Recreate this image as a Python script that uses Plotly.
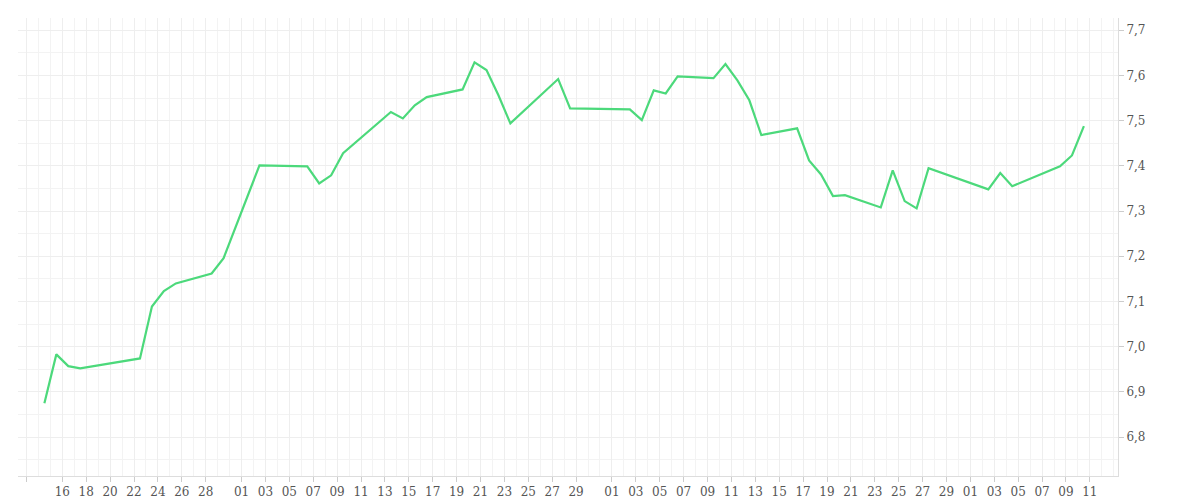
import plotly.graph_objects as go

# data (timestamps at midday)
dates = ["2023-04-14", "2023-04-15", "2023-04-16", "2023-04-17", "2023-04-22", "2023-04-23",
         "2023-04-24", "2023-04-25", "2023-04-28", "2023-04-29", "2023-05-02", "2023-05-06",
         "2023-05-07", "2023-05-08", "2023-05-09", "2023-05-13", "2023-05-14", "2023-05-15",
         "2023-05-16", "2023-05-19", "2023-05-20", "2023-05-21", "2023-05-22", "2023-05-23",
         "2023-05-27", "2023-05-28", "2023-06-02", "2023-06-03", "2023-06-04", "2023-06-05",
         "2023-06-06", "2023-06-09", "2023-06-10", "2023-06-11", "2023-06-12", "2023-06-13",
         "2023-06-16", "2023-06-17", "2023-06-18", "2023-06-19", "2023-06-20", "2023-06-23",
         "2023-06-24", "2023-06-25", "2023-06-26", "2023-06-27", "2023-07-02", "2023-07-03",
         "2023-07-04", "2023-07-08", "2023-07-09", "2023-07-10"]
values = [6.875, 6.983, 6.957, 6.952, 6.974, 7.089, 7.123, 7.140, 7.162, 7.196, 7.401, 7.399,
          7.361, 7.379, 7.428, 7.519, 7.505, 7.534, 7.552, 7.569, 7.629, 7.612, 7.556, 7.494,
          7.592, 7.527, 7.525, 7.501, 7.567, 7.560, 7.598, 7.594, 7.625, 7.589, 7.545, 7.468,
          7.483, 7.412, 7.381, 7.333, 7.335, 7.308, 7.390, 7.322, 7.306, 7.395, 7.348, 7.384,
          7.355, 7.399, 7.423, 7.488]

tick_dates = ["2023-04-13", "2023-04-16", "2023-04-18", "2023-04-20", "2023-04-22", "2023-04-24",
              "2023-04-26", "2023-04-28", "2023-05-01", "2023-05-03", "2023-05-05", "2023-05-07",
              "2023-05-09", "2023-05-11", "2023-05-13", "2023-05-15", "2023-05-17", "2023-05-19",
              "2023-05-21", "2023-05-23", "2023-05-25", "2023-05-27", "2023-05-29", "2023-06-01",
              "2023-06-03", "2023-06-05", "2023-06-07", "2023-06-09", "2023-06-11", "2023-06-13",
              "2023-06-15", "2023-06-17", "2023-06-19", "2023-06-21", "2023-06-23", "2023-06-25",
              "2023-06-27", "2023-06-29", "2023-07-01", "2023-07-03", "2023-07-05", "2023-07-07",
              "2023-07-09", "2023-07-11"]
tick_text = ["13Apr"] + [d[-2:] for d in tick_dates[1:]]

fig = go.Figure(go.Scatter(
    x=[d + " 12:00" for d in dates], y=values, mode="lines",
    line=dict(color="#4cd97b", width=2.2), hoverinfo="x+y",
))

fig.update_layout(
    width=1200, height=500,
    margin=dict(l=10, r=90, t=10, b=32),
    plot_bgcolor="white", paper_bgcolor="white",
    showlegend=False, separators=",.",
    font=dict(family="DejaVu Serif", size=12, color="#555"),
)
fig.update_xaxes(
    range=["2023-04-12 07:00", "2023-07-13 08:30"],
    tickvals=tick_dates, ticktext=tick_text, tickangle=0,
    showgrid=True, gridcolor="#eeeeee",
    minor=dict(dtick=86400000, showgrid=True, gridcolor="#f3f3f3"),
    ticks="outside", ticklen=5, tickcolor="#ccc",
    showline=True, linecolor="#ddd", zeroline=False,
)
fig.update_yaxes(
    side="right", range=[6.714, 7.727], dtick=0.1, tickformat=".1f",
    showgrid=True, gridcolor="#eeeeee",
    minor=dict(dtick=0.05, showgrid=True, gridcolor="#f3f3f3"),
    ticks="outside", ticklen=5, tickcolor="#ccc",
    showline=True, linecolor="#ddd", zeroline=False,
)

fig.write_html("out.html")
